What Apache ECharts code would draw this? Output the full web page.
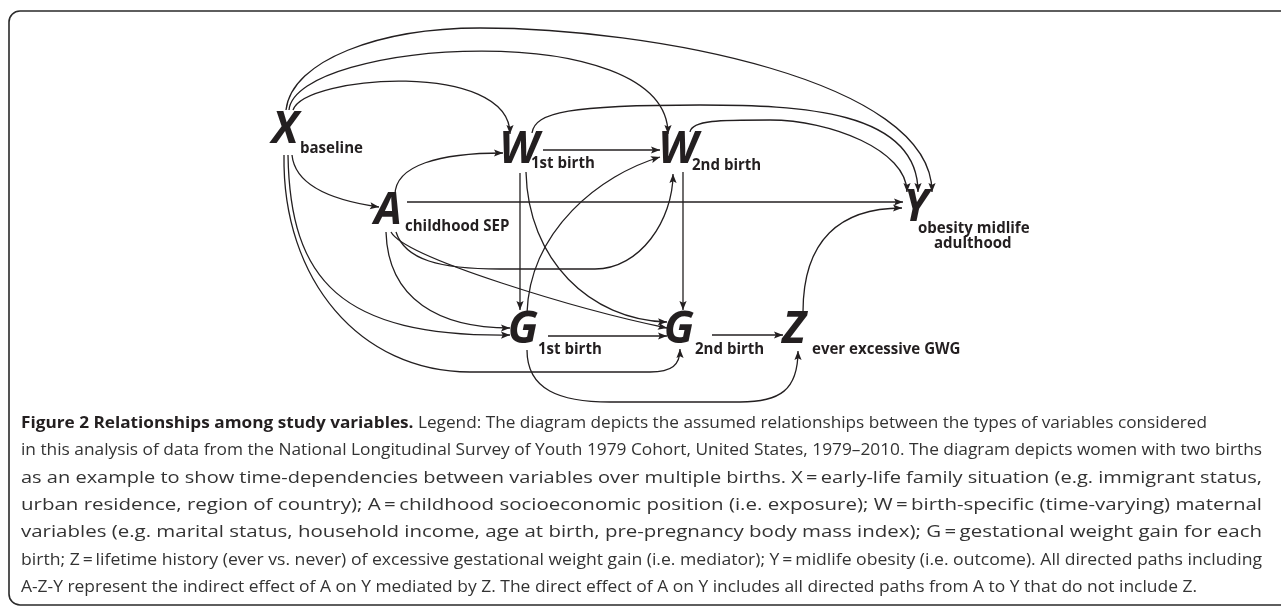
<!DOCTYPE html>
<html><head><meta charset="utf-8">
<script src="https://cdn.jsdelivr.net/npm/echarts@6/dist/echarts.min.js"></script>
<style>html,body{margin:0;padding:0;background:#fff}#c{width:1281px;height:609px}</style>
</head><body><div id="c"></div>
<script>
// ---- diagram data ----
const nodeIds = ['X', 'A', 'W1', 'W2', 'G1', 'G2', 'Z', 'Y'];
const nodeLetters = ['X', 'A', 'W', 'W', 'G', 'G', 'Z', 'Y'];
const nodeX = [288, 391, 522, 681, 526, 682, 797, 919];
const nodeY = [147, 228, 167, 167, 347, 347, 347, 225];

const subTexts = ['baseline', 'childhood SEP', '1st birth', '2nd birth', '1st birth', '2nd birth', 'ever excessive GWG', 'obesity midlife', 'adulthood'];
const subX = [300, 405, 531, 692, 538, 695, 812, 918, 934];
const subY = [155, 233, 170, 172, 356, 356, 356, 235, 250];

const edgeFrom = ['X', 'X', 'X', 'W1', 'W2', 'W1', 'A', 'X', 'X', 'X', 'A', 'A', 'A', 'W1', 'W1', 'G1', 'W2', 'G1', 'G2', 'G1', 'Z', 'A'];
const edgeTo = ['W1', 'W2', 'Y', 'Y', 'Y', 'W2', 'W1', 'A', 'G1', 'G2', 'G1', 'G2', 'W2', 'G1', 'G2', 'W2', 'G2', 'G2', 'Z', 'Z', 'Y', 'Y'];
const edgePaths = [
  ['M', 293, 110, 'C', 305, 75, 510, 60, 510, 134],
  ['M', 289, 110, 'C', 296, 40, 668, 15, 668, 134],
  ['M', 286, 110, 'C', 292, 60, 380, 28, 480, 28, 'C', 650, 28, 932, 80, 932, 192],
  ['M', 532, 133, 'C', 535, 112, 570, 105, 700, 105, 'C', 800, 105, 918, 110, 918, 192],
  ['M', 690, 132, 'C', 692, 120, 720, 120, 770, 120, 'C', 830, 120, 907, 150, 907, 192],
  ['M', 543, 150, 'L', 660, 150],
  ['M', 395, 195, 'C', 395, 165, 440, 153, 503, 153],
  ['M', 292, 155, 'C', 295, 185, 330, 200, 379, 207],
  ['M', 288, 155, 'C', 290, 280, 340, 337, 510, 335],
  ['M', 284, 155, 'C', 282, 280, 360, 372, 470, 372, 'L', 650, 372, 'C', 672, 372, 680, 365, 680, 349],
  ['M', 386, 232, 'C', 388, 300, 440, 328, 510, 328],
  ['M', 391, 232, 'C', 405, 258, 580, 310, 667, 328],
  ['M', 396, 232, 'C', 405, 260, 440, 269, 500, 269, 'L', 595, 269, 'C', 640, 269, 673, 220, 673, 174],
  ['M', 520, 173, 'L', 520, 310],
  ['M', 526, 172, 'C', 528, 260, 590, 320, 667, 322],
  ['M', 527, 313, 'C', 530, 230, 600, 175, 660, 157],
  ['M', 683, 172, 'L', 683, 310],
  ['M', 548, 336, 'L', 667, 336],
  ['M', 712, 335, 'L', 783, 335],
  ['M', 527, 350, 'C', 527, 390, 560, 402, 610, 402, 'L', 740, 402, 'C', 780, 402, 798, 390, 798, 351],
  ['M', 803, 312, 'C', 803, 240, 840, 208, 902, 208],
  ['M', 407, 202, 'L', 903, 202]
];

const captionBold = 'Figure 2 Relationships among study variables.';
const captionLines = [
  ' Legend: The diagram depicts the assumed relationships between the types of variables considered',
  'in this analysis of data from the National Longitudinal Survey of Youth 1979 Cohort, United States, 1979\u20132010. The diagram depicts women with two births',
  'as an example to show time-dependencies between variables over multiple births. X\u2009=\u2009early-life family situation (e.g. immigrant status,',
  'urban residence, region of country); A\u2009=\u2009childhood socioeconomic position (i.e. exposure); W\u2009=\u2009birth-specific (time-varying) maternal',
  'variables (e.g. marital status, household income, age at birth, pre-pregnancy body mass index); G\u2009=\u2009gestational weight gain for each',
  'birth; Z\u2009=\u2009lifetime history (ever vs. never) of excessive gestational weight gain (i.e. mediator); Y\u2009=\u2009midlife obesity (i.e. outcome). All directed paths including',
  'A-Z-Y represent the indirect effect of A on Y mediated by Z. The direct effect of A on Y includes all directed paths from A to Y that do not include Z.'
];

// ---- rendering ----
const INK = '#231f20';
const chart = echarts.init(document.getElementById('c'), null, {renderer: 'canvas'});

const capFont = '"Open Sans", sans-serif';
const capSize = 16;
const capLeft = 21;
const capRight = [1207, 1262, 1262, 1262, 1262, 1262, 1197];
const capCenterY = [425, 452, 480, 507, 534, 562, 589];
const mctx = document.createElement('canvas').getContext('2d');
function measure(t, weight) {
  mctx.font = weight + ' ' + capSize + 'px ' + capFont;
  return mctx.measureText(t).width;
}
const graphics = [{
  type: 'rect', silent: true,
  shape: {x: 9, y: 11, width: 1400, height: 594, r: 11},
  style: {fill: null, stroke: '#2a2a2a', lineWidth: 1.6}
}];
captionLines.forEach(function (line, i) {
  let natural, text;
  if (i === 0) {
    natural = measure(captionBold, 'bold') + measure(line, 'normal');
    text = '{b|' + captionBold + '}{r|' + line + '}';
  } else {
    natural = measure(line, 'normal');
    text = '{r|' + line + '}';
  }
  const s = (capRight[i] - capLeft) / natural;
  graphics.push({
    type: 'text', silent: true,
    x: capLeft, y: capCenterY[i] - 2, scaleX: s, scaleY: 1,
    style: {
      text: text, x: 0, y: 0, align: 'left', verticalAlign: 'middle',
      rich: {
        b: {fontFamily: capFont, fontSize: capSize, fontWeight: 'bold', fill: INK, color: INK},
        r: {fontFamily: capFont, fontSize: capSize, fontWeight: 'normal', fill: '#333', color: '#333'}
      }
    }
  });
});

function renderEdge(params, api) {
  const segs = edgePaths[params.dataIndex];
  let d = '';
  const pts = [];
  let i = 0;
  while (i < segs.length) {
    const cmd = segs[i++];
    const n = cmd === 'C' ? 3 : 1;
    d += cmd;
    for (let k = 0; k < n; k++) {
      const p = api.coord([segs[i], segs[i + 1]]);
      i += 2;
      d += ' ' + p[0].toFixed(2) + ' ' + p[1].toFixed(2);
      pts.push(p);
    }
    d += ' ';
  }
  const tip = pts[pts.length - 1];
  const prev = pts[pts.length - 2];
  let dx = tip[0] - prev[0], dy = tip[1] - prev[1];
  const len = Math.sqrt(dx * dx + dy * dy) || 1;
  dx /= len; dy /= len;
  const L = 9, W = 3.6;
  const bx = tip[0] - dx * L, by = tip[1] - dy * L;
  const arrow = [tip, [bx - dy * W, by + dx * W], [tip[0] - dx * L * 0.8, tip[1] - dy * L * 0.8], [bx + dy * W, by - dx * W]];
  return {
    type: 'group',
    children: [
      {type: 'path', shape: {pathData: d}, style: {fill: null, stroke: INK, lineWidth: 1.3}},
      {type: 'polygon', shape: {points: arrow}, style: {fill: INK, stroke: null}}
    ]
  };
}

function renderNode(params, api) {
  const i = params.dataIndex;
  const p = api.coord([nodeX[i], nodeY[i]]);
  return {
    type: 'text',
    x: p[0] - 3, y: p[1] - 17,
    style: {
      text: nodeLetters[i], align: 'center', verticalAlign: 'middle',
      font: 'italic bold 44px "Open Sans", sans-serif', fill: INK
    }
  };
}

function renderSub(params, api) {
  const i = params.dataIndex;
  const p = api.coord([subX[i], subY[i]]);
  return {
    type: 'text',
    x: p[0], y: p[1] - 6.2, scaleX: 0.94,
    style: {
      text: subTexts[i], align: 'left', verticalAlign: 'middle',
      font: 'bold 16px "Open Sans", sans-serif', fill: INK
    }
  };
}

chart.setOption({
  animation: false,
  grid: {left: 0, right: 0, top: 0, bottom: 0},
  xAxis: {type: 'value', min: 0, max: 1281, show: false},
  yAxis: {type: 'value', min: 0, max: 609, inverse: true, show: false},
  graphic: graphics,
  series: [
    {type: 'custom', name: 'edges', silent: true, renderItem: renderEdge,
     data: edgeFrom.map(function (f, i) { return [i, f, edgeTo[i]]; }), encode: {x: -1, y: -1}},
    {type: 'custom', name: 'nodes', silent: true, renderItem: renderNode,
     data: nodeIds.map(function (n, i) { return [nodeX[i], nodeY[i], n]; })},
    {type: 'custom', name: 'subs', silent: true, renderItem: renderSub,
     data: subTexts.map(function (t, i) { return [subX[i], subY[i]]; })}
  ]
});
</script></body></html>
